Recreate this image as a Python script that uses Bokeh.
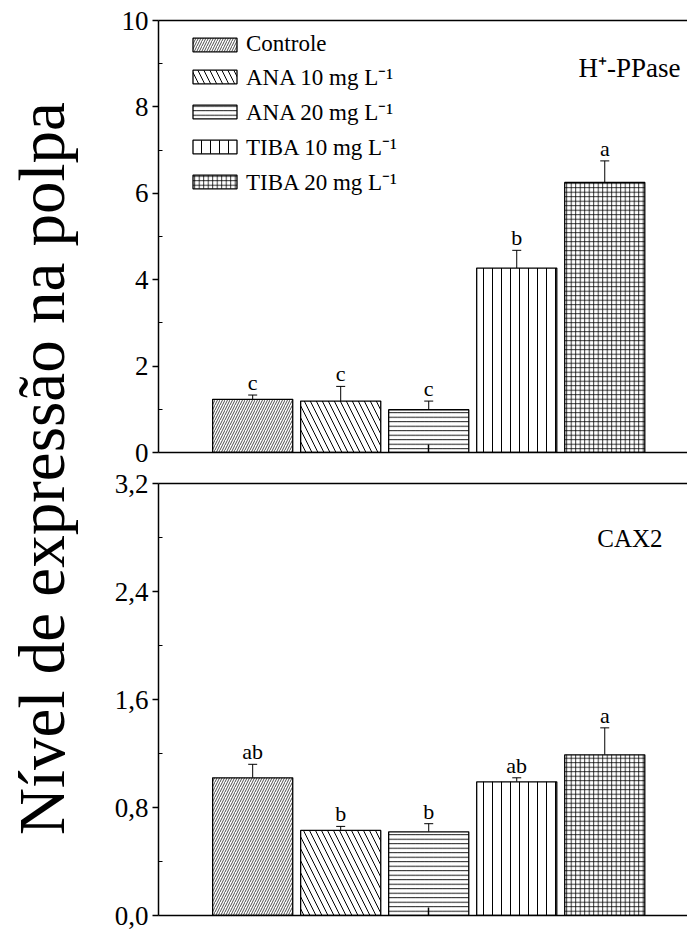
import numpy as np
from bokeh.plotting import figure
from bokeh.models import (ColumnDataSource, Range1d, FixedTicker, LinearAxis, Whisker, TeeHead,
                          LabelSet, Label, Legend, LegendItem, CustomJSTickFormatter)
from bokeh.layouts import row, column
from bokeh.embed import file_html
from bokeh.resources import INLINE

# ---------------- data ----------------
treatments = ["Controle", "ANA 10 mg L\u207b\u00b9", "ANA 20 mg L\u207b\u00b9",
              "TIBA 10 mg L\u207b\u00b9", "TIBA 20 mg L\u207b\u00b9"]
positions = [1, 2, 3, 4, 5]

hpp_mean = [1.23, 1.19, 0.99, 4.27, 6.25]
hpp_err = [0.10, 0.34, 0.20, 0.41, 0.50]
hpp_letters = ["c", "c", "c", "b", "a"]

cax_mean = [1.02, 0.63, 0.62, 0.99, 1.19]
cax_err = [0.10, 0.03, 0.06, 0.03, 0.20]
cax_letters = ["ab", "b", "b", "ab", "a"]

top_ticks = [0, 2, 4, 6, 8, 10]
top_minor = [1, 3, 5, 7, 9]
bot_ticks = [0.0, 0.8, 1.6, 2.4, 3.2]
bot_minor = [0.4, 1.2, 2.0, 2.8]

# ---------------- styles ----------------
hatches = ["/", "\\", "-", "|", "+"]
hatch_scales = [5, 12, 4.5, 9, 4.5]
hatch_weights = [0.7, 1, 0.9, 1, 0.8]
FONT = "Liberation Serif"


def make_panel(height, border_top, border_bottom, y_end, ticks, minor, means, errs, letters,
               comma=False):
    p = figure(width=587, height=height, toolbar_location=None, output_backend="svg",
               x_range=Range1d(-0.07, 5.94), y_range=Range1d(0, y_end),
               min_border_left=58, min_border_right=0, min_border_top=border_top,
               min_border_bottom=border_bottom, x_axis_location=None, y_axis_location=None)
    p.grid.visible = False
    p.outline_line_color = None

    # y axis
    yax = LinearAxis(ticker=FixedTicker(ticks=ticks, minor_ticks=minor))
    if comma:
        yax.formatter = CustomJSTickFormatter(code="return tick.toFixed(1).replace('.', ',');")
    yax.axis_line_width = 1.5
    yax.major_tick_line_width = 1.5
    yax.major_tick_out = 6
    yax.major_tick_in = 0
    yax.minor_tick_out = 0
    yax.minor_tick_in = 4
    yax.minor_tick_line_width = 1
    yax.major_label_text_font = FONT
    yax.major_label_text_font_size = "27px"
    yax.major_label_text_color = "black"
    yax.major_label_standoff = 4
    p.add_layout(yax, "left")

    # x axis (bottom), one inward tick, no labels
    xax = LinearAxis(ticker=FixedTicker(ticks=[3], minor_ticks=[]))
    xax.axis_line_width = 1.5
    xax.major_tick_in = 8
    xax.major_tick_out = 0
    xax.major_tick_line_width = 1.5
    xax.major_label_overrides = {3: ""}
    xax.major_label_standoff = 0
    p.add_layout(xax, "below")

    # top border line
    tax = LinearAxis(ticker=FixedTicker(ticks=[], minor_ticks=[]))
    tax.axis_line_width = 1.5
    tax.major_tick_in = 0
    tax.major_tick_out = 0
    tax.minor_tick_in = 0
    tax.minor_tick_out = 0
    tax.major_label_standoff = 0
    p.add_layout(tax, "above")

    renderers = []
    for i in range(len(positions)):
        r = p.vbar(x=[positions[i]], top=[means[i]], width=0.91, bottom=0,
                   fill_color="white", line_color="black", line_width=1.3,
                   hatch_pattern=hatches[i], hatch_scale=hatch_scales[i],
                   hatch_weight=hatch_weights[i], hatch_color="black")
        renderers.append(r)

    src = ColumnDataSource(dict(x=positions, y=means,
                                upper=[m + e for m, e in zip(means, errs)],
                                letter=letters))
    w = Whisker(base="x", lower="y", upper="upper", source=src, dimension="height",
                line_color="black", line_width=1,
                upper_head=TeeHead(size=9, line_width=1, line_color="black"),
                lower_head=None)
    p.add_layout(w)
    ls = LabelSet(x="x", y="upper", text="letter", source=src, text_align="center",
                  text_baseline="alphabetic", y_offset=5, text_font=FONT,
                  text_font_size="22px", text_color="black")
    p.add_layout(ls)
    return p, renderers


top, top_r = make_panel(467, 20, 15, 10, top_ticks, top_minor, hpp_mean, hpp_err, hpp_letters)
bot, _ = make_panel(463, 16, 15, 3.2, bot_ticks, bot_minor, cax_mean, cax_err, cax_letters,
                    comma=True)

legend = Legend(items=[LegendItem(label=treatments[i], renderers=[top_r[i]])
                       for i in range(len(treatments))],
                location=(29, 255), orientation="vertical")
legend.border_line_color = None
legend.background_fill_alpha = 0
legend.margin = 0
legend.padding = 0
legend.spacing = 3
legend.glyph_width = 55
legend.glyph_height = 17
legend.label_height = 26
legend.label_standoff = 4
legend.label_text_font = FONT
legend.label_text_font_size = "23px"
legend.label_text_color = "black"
top.add_layout(legend)

top.add_layout(Label(x=522, y=385, x_units="screen", y_units="screen",
                     text="H\u207a-PPase", text_align="right", text_baseline="alphabetic",
                     text_font=FONT, text_font_size="27px", text_color="black"))
bot.add_layout(Label(x=504, y=377, x_units="screen", y_units="screen",
                     text="CAX2", text_align="right", text_baseline="alphabetic",
                     text_font=FONT, text_font_size="25px", text_color="black"))

lab = figure(width=100, height=930, toolbar_location=None, output_backend="svg",
             x_range=Range1d(0, 1), y_range=Range1d(0, 1), min_border=0,
             x_axis_location=None, y_axis_location=None)
lab.grid.visible = False
lab.outline_line_color = None
lab.add_layout(Label(x=41, y=462, x_units="screen", y_units="screen",
                     text="N\u00edvel de express\u00e3o na polpa", angle=np.pi / 2,
                     text_align="center", text_baseline="alphabetic",
                     text_font=FONT, text_font_size="65px", text_color="black"))

layout = row(lab, column(top, bot))
open("out.html", "w").write(file_html(layout, INLINE))
